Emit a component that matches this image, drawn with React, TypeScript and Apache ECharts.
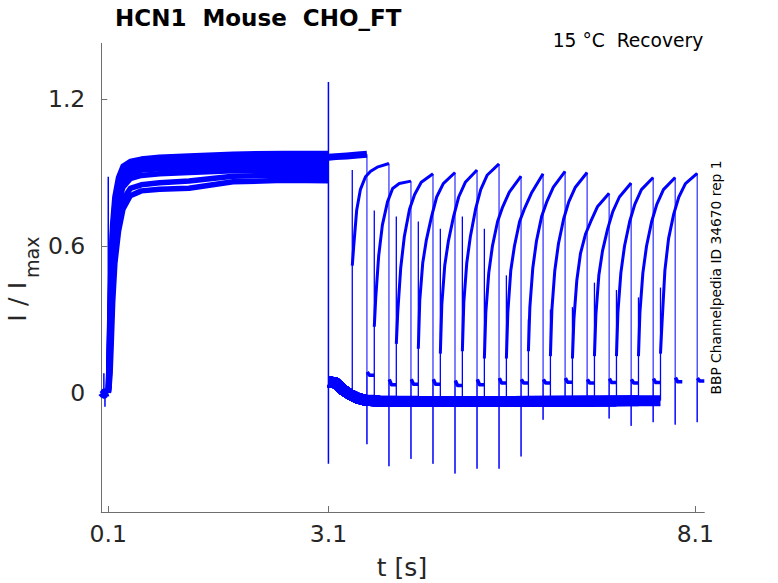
import React, { useEffect, useRef } from "react";
import * as echarts from "echarts";

// ---------- axes ----------
const X_TICKS = [0.1, 3.1, 8.1];
const Y_TICKS = [0, 0.6, 1.2];
const X_MIN = 0.005;
const X_MAX = 8.222;
const Y_MIN = -0.487;
const Y_MAX = 1.428;

// ---------- pre-pulse holding (0 .. 0.1 s) ----------
const PRE_T = [0.005, 0.02, 0.035, 0.045, 0.05, 0.06, 0.08, 0.1];
const PRE_V = [0.0, -0.006, 0.0, 0.004, -0.01, -0.004, -0.002, 0.0];

// ---------- activation pulse (0.1 .. 3.1 s), representative sweeps ----------
const ACT_T = [0.1, 0.11, 0.125, 0.14, 0.16, 0.19, 0.24, 0.3, 0.4, 0.55, 0.8, 1.2, 1.8, 2.5, 3.1];
const ACT_1 = [0, 0.14, 0.38, 0.56, 0.69, 0.8, 0.88, 0.925, 0.945, 0.955, 0.962, 0.968, 0.975, 0.978, 0.978];
const ACT_2 = [0, 0.12, 0.34, 0.52, 0.66, 0.77, 0.86, 0.905, 0.93, 0.94, 0.948, 0.952, 0.958, 0.96, 0.96];
const ACT_3 = [0, 0.1, 0.3, 0.48, 0.62, 0.74, 0.835, 0.885, 0.91, 0.925, 0.932, 0.936, 0.942, 0.944, 0.942];
const ACT_4 = [0, 0.08, 0.26, 0.43, 0.58, 0.71, 0.81, 0.865, 0.895, 0.91, 0.915, 0.92, 0.926, 0.928, 0.926];
const ACT_5 = [0, 0.06, 0.21, 0.37, 0.53, 0.67, 0.78, 0.84, 0.875, 0.888, 0.895, 0.9, 0.907, 0.91, 0.908];
const ACT_6 = [0, 0.04, 0.15, 0.29, 0.45, 0.6, 0.72, 0.79, 0.835, 0.85, 0.858, 0.865, 0.885, 0.89, 0.888];
const ACT_7 = [0, 0.02, 0.08, 0.2, 0.37, 0.53, 0.66, 0.75, 0.805, 0.825, 0.832, 0.836, 0.862, 0.868, 0.866];
const ACT_SWEEPS = [ACT_1, ACT_2, ACT_3, ACT_4, ACT_5, ACT_6, ACT_7];

// ---------- capacitive transients at the voltage steps ----------
const STEP_T = [0.04, 0.055, 0.1, 3.1];
const STEP_LO = [0.0, -0.057, 0.0, -0.29];
const STEP_HI = [0.08, 0.0, 0.883, 1.27];

// ---------- sweep 0 (no interpulse interval) ----------
const S0_T = [3.1, 3.2, 3.35, 3.5, 3.625];
const S0_V = [0.962, 0.965, 0.968, 0.972, 0.975];

// ---------- deactivated baseline after 3.1 s ----------
const BASE_T = [3.1, 3.2, 3.3, 3.4, 3.5, 3.6, 3.8, 4.5, 5.5, 6.5, 7.2, 7.625];
const BASE_V = [0.045, 0.04, 0.012, -0.008, -0.022, -0.03, -0.034, -0.036, -0.036, -0.035, -0.032, -0.028];

// ---------- recovery test pulses (sweeps 1..15) ----------
const ONSET_T = [3.425, 3.725, 4.025, 4.325, 4.625, 4.925, 5.225, 5.525, 5.825, 6.125, 6.425, 6.725, 7.025, 7.325, 7.625];
const ONSET_PEAK = [0.91, 0.745, 0.72, 0.7, 0.67, 0.72, 0.67, 0.48, 0.3, 0.34, 0.35, 0.45, 0.42, 0.39, 0.43];
const REC_OFFSETS = [0, 0.02, 0.06, 0.11, 0.18, 0.25, 0.34, 0.5];
const REC_VALUES = [
  [0.52, 0.6, 0.746, 0.83, 0.883, 0.905, 0.922, 0.937],
  [0.27, 0.39, 0.56, 0.685, 0.78, 0.835, 0.855, 0.865],
  [0.2, 0.33, 0.51, 0.64, 0.75, 0.81, 0.86, 0.895],
  [0.18, 0.38, 0.53, 0.625, 0.72, 0.8, 0.855, 0.9],
  [0.16, 0.36, 0.52, 0.62, 0.72, 0.8, 0.86, 0.91],
  [0.17, 0.37, 0.53, 0.64, 0.75, 0.83, 0.89, 0.935],
  [0.14, 0.33, 0.49, 0.6, 0.7, 0.76, 0.82, 0.885],
  [0.14, 0.33, 0.5, 0.6, 0.7, 0.755, 0.815, 0.895],
  [0.17, 0.35, 0.51, 0.62, 0.72, 0.78, 0.84, 0.905],
  [0.15, 0.34, 0.5, 0.61, 0.71, 0.78, 0.84, 0.9],
  [0.14, 0.3, 0.46, 0.57, 0.65, 0.7, 0.76, 0.815],
  [0.15, 0.32, 0.48, 0.58, 0.67, 0.74, 0.8, 0.857],
  [0.15, 0.33, 0.49, 0.6, 0.7, 0.77, 0.83, 0.88],
  [0.15, 0.33, 0.49, 0.6, 0.7, 0.77, 0.83, 0.88],
  [0.16, 0.28, 0.5, 0.63, 0.73, 0.8, 0.855, 0.897],
];

// ---------- end of test pulse (sweeps 0..15) ----------
const END_T = [3.625, 3.925, 4.225, 4.525, 4.825, 5.125, 5.425, 5.725, 6.025, 6.325, 6.625, 6.925, 7.225, 7.525, 7.825, 8.125];
const END_SPIKE = [-0.21, -0.3, -0.27, -0.29, -0.33, -0.31, -0.31, -0.26, -0.11, -0.04, -0.04, -0.105, -0.135, -0.12, -0.13, -0.12];
const TAIL_OFFSETS = [0.004, 0.035, 0.097];
const TAIL_HEAD = [0.085, 0.055, 0.055, 0.055, 0.05, 0.055, 0.06, 0.055, 0.055, 0.06, 0.055, 0.058, 0.055, 0.058, 0.062, 0.06];
const TAIL_REST = [0.072, 0.033, 0.035, 0.035, 0.03, 0.033, 0.04, 0.04, 0.04, 0.043, 0.04, 0.042, 0.04, 0.042, 0.045, 0.048];

const BLUE = "#0000ff";
const FONT = "DejaVu Sans";

function line(data: number[][], width: number, z = 2) {
  return {
    type: "line",
    data,
    showSymbol: false,
    symbol: "none",
    silent: true,
    clip: true,
    z,
    emphasis: { disabled: true },
    lineStyle: { color: BLUE, width, cap: "butt", join: "round" },
  };
}

function buildSeries() {
  const series: any[] = [];
  series.push(line(PRE_T.map((t, i) => [t, PRE_V[i]]), 7));
  ACT_SWEEPS.forEach((vals) => {
    series.push(line(ACT_T.map((t, i) => [t, vals[i]]), 5.5));
  });
  STEP_T.forEach((t, i) => {
    series.push(line([[t, STEP_LO[i]], [t, STEP_HI[i]]], 1.5, 5));
  });
  series.push(line(S0_T.map((t, i) => [t, S0_V[i]]), 7));
  ONSET_T.forEach((onset) => {
    const pts: number[][] = [];
    BASE_T.forEach((t, i) => {
      if (t < onset) pts.push([t, BASE_V[i]]);
    });
    pts.push([onset, pts[pts.length - 1][1]]);
    series.push(line(pts, 11));
  });
  ONSET_T.forEach((onset, k) => {
    const vals = REC_VALUES[k];
    const base = BASE_V.filter((_, i) => BASE_T[i] < onset);
    series.push(line([[onset, base[base.length - 1]], [onset, ONSET_PEAK[k]]], 1.3, 5));
    series.push(line(REC_OFFSETS.map((o, i) => [onset + o, vals[i]]), 3, 3));
  });
  END_T.forEach((end, k) => {
    const last = k === 0 ? S0_V[S0_V.length - 1] : REC_VALUES[k - 1][REC_VALUES[k - 1].length - 1];
    series.push(line([[end, last], [end, END_SPIKE[k]], [end, TAIL_HEAD[k]]], 1, 4));
    series.push(
      line(
        [
          [end + TAIL_OFFSETS[0], TAIL_HEAD[k]],
          [end + TAIL_OFFSETS[1], TAIL_REST[k]],
          [end + TAIL_OFFSETS[2], TAIL_REST[k]],
        ],
        3.5,
        3
      )
    );
  });
  return series;
}

export default function App() {
  const ref = useRef<HTMLDivElement>(null);
  useEffect(() => {
    if (!ref.current) return;
    const chart = echarts.init(ref.current, null, { renderer: "svg" });
    const axisColor = "#6e6e6e";
    const labelColor = "#262626";
    chart.setOption({
      animation: false,
      backgroundColor: "#ffffff",
      grid: { left: 101.3, top: 43.3, width: 603, height: 468.7, containLabel: false },
      xAxis: {
        type: "value",
        min: X_MIN,
        max: X_MAX,
        axisLine: { show: true, onZero: false, lineStyle: { color: axisColor, width: 1 } },
        axisTick: { show: true, inside: true, length: 6, customValues: X_TICKS, lineStyle: { color: axisColor } },
        axisLabel: {
          customValues: X_TICKS,
          formatter: (v: number) => String(v),
          color: labelColor,
          fontFamily: FONT,
          fontSize: 23.5,
          margin: 10,
        },
        splitLine: { show: false },
      },
      yAxis: {
        type: "value",
        min: Y_MIN,
        max: Y_MAX,
        axisLine: { show: true, onZero: false, lineStyle: { color: axisColor, width: 1 } },
        axisTick: { show: true, inside: true, length: 6, customValues: Y_TICKS, lineStyle: { color: axisColor } },
        axisLabel: {
          customValues: Y_TICKS,
          formatter: (v: number) => String(v),
          color: labelColor,
          fontFamily: FONT,
          fontSize: 23.5,
          margin: 16,
        },
        splitLine: { show: false },
      },
      graphic: [
        {
          type: "text",
          x: 115,
          y: 18,
          style: {
            text: "HCN1  Mouse  CHO_FT",
            fontFamily: FONT,
            fontSize: 23,
            fontWeight: "bold",
            fill: "#000",
            align: "left",
            verticalAlign: "middle",
            textAlign: "left",
            textVerticalAlign: "middle",
          },
        },
        {
          type: "text",
          x: 703.3,
          y: 40.8,
          style: {
            text: "15 °C  Recovery",
            fontFamily: FONT,
            fontSize: 18.7,
            fill: "#000",
            align: "right",
            verticalAlign: "middle",
            textAlign: "right",
            textVerticalAlign: "middle",
          },
        },
        {
          type: "text",
          x: 716,
          y: 277.5,
          rotation: Math.PI / 2,
          style: {
            text: "BBP Channelpedia ID 34670 rep 1",
            fontFamily: FONT,
            fontSize: 13.8,
            fill: "#000",
            align: "center",
            verticalAlign: "middle",
            textAlign: "center",
            textVerticalAlign: "middle",
          },
        },
        {
          type: "text",
          x: 402,
          y: 567,
          style: {
            text: "t [s]",
            fontFamily: FONT,
            fontSize: 25,
            fill: labelColor,
            align: "center",
            verticalAlign: "middle",
            textAlign: "center",
            textVerticalAlign: "middle",
          },
        },
        {
          type: "text",
          x: 17,
          y: 301.7,
          rotation: Math.PI / 2,
          style: {
            text: "I / I",
            fontFamily: FONT,
            fontSize: 25.6,
            fill: labelColor,
            align: "center",
            verticalAlign: "middle",
            textAlign: "center",
            textVerticalAlign: "middle",
          },
        },
        {
          type: "text",
          x: 31.8,
          y: 257.3,
          rotation: Math.PI / 2,
          style: {
            text: "max",
            fontFamily: FONT,
            fontSize: 19,
            fill: labelColor,
            align: "center",
            verticalAlign: "middle",
            textAlign: "center",
            textVerticalAlign: "middle",
          },
        },
      ],
      series: buildSeries(),
    });
    return () => chart.dispose();
  }, []);
  return (
    <div
      ref={ref}
      style={{ position: "fixed", left: 0, top: 0, width: 778, height: 583, background: "#fff" }}
    />
  );
}
